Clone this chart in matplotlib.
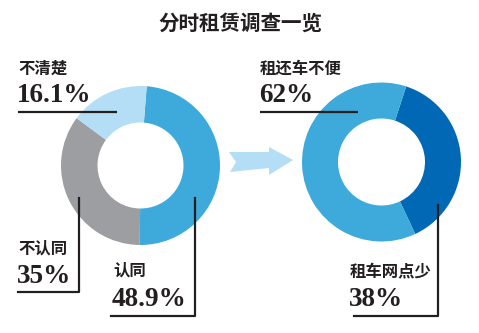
import matplotlib
matplotlib.use("Agg")
import matplotlib.pyplot as plt
from matplotlib.patches import Polygon

W, H = 479, 333

title = "分时租赁调查一览"

# left ring: attitude survey
left_labels = ["认同", "不认同", "不清楚"]
left_values = [48.9, 35, 16.1]
left_colors = ["#3DAADB", "#9D9EA2", "#B3DEF5"]

# right ring: problems
right_labels = ["租车网点少", "租还车不便"]
right_values = [38, 62]
right_colors = ["#0068B4", "#3DAADB"]

ink = "#231F20"
cjk = ["Noto Sans CJK SC", "DejaVu Sans"]
num_font = "Liberation Serif"


def Y(p):
    # pixel row (top-down) -> data y
    return H - p


fig = plt.figure(figsize=(W / 100, H / 100), dpi=100)
ax = fig.add_axes([0, 0, 1, 1])

ax.pie(left_values, colors=left_colors, startangle=85.5, counterclock=False,
       center=(140.5, Y(165.5)), radius=79.5,
       wedgeprops=dict(width=36.5, linewidth=0))
ax.pie(right_values, colors=right_colors, startangle=71.9, counterclock=False,
       center=(381.5, Y(162)), radius=79.5,
       wedgeprops=dict(width=36, linewidth=0))

ax.set_xlim(0, W)
ax.set_ylim(0, H)
ax.set_aspect("equal")
ax.axis("off")

# arrow between the rings
arrow = [(229, 152), (269, 152), (269, 147), (293, 160), (269, 175),
         (269, 168), (230, 172), (236, 162)]
ax.add_patch(Polygon([(x, Y(y)) for x, y in arrow], closed=True,
                     facecolor="#B3DEF5", edgecolor="none"))

ax.text(240, Y(23), title, family=cjk, fontsize=14.8, fontweight="heavy",
        color=ink, ha="center", va="center")


def label(x, yc, name, yb, value):
    ax.text(x, Y(yc), name, family=cjk, fontsize=11.8, fontweight="bold",
            color=ink, ha="left", va="center")
    ax.text(x - 1, Y(yb), f"{value:g}%", family=num_font, fontsize=19.5,
            fontweight="bold", color=ink, ha="left", va="baseline")


lw = 1.6
# 不清楚
label(18, 69, left_labels[2], 102, left_values[2])
ax.plot([18, 117], [Y(112), Y(112)], color=ink, lw=lw, solid_capstyle="butt")
# 不认同
label(18, 248.5, left_labels[1], 283, left_values[1])
ax.plot([18, 79, 79], [Y(292), Y(292), Y(198)], color=ink, lw=lw)
# 认同
label(113, 271, left_labels[0], 306, left_values[0])
ax.plot([111, 195, 195], [Y(316), Y(316), Y(198)], color=ink, lw=lw)
# 租还车不便
label(260, 69, right_labels[1], 102, right_values[1])
ax.plot([260, 358], [Y(112), Y(112)], color=ink, lw=lw, solid_capstyle="butt")
# 租车网点少
label(350, 271, right_labels[0], 306, right_values[0])
ax.plot([354, 438, 438], [Y(316), Y(316), Y(205)], color=ink, lw=lw)

fig.savefig("out.png", dpi=100, facecolor="white")
